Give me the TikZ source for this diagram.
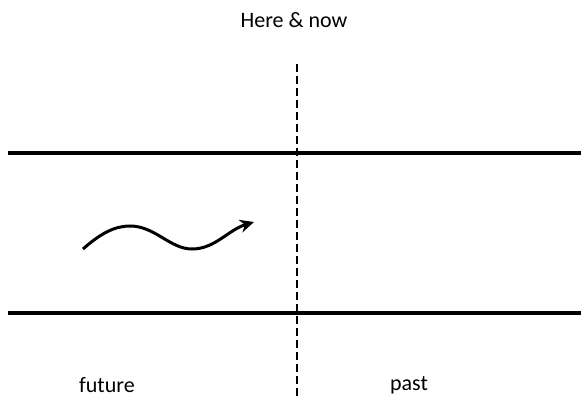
\documentclass[tikz,border=0pt]{standalone}
\usepackage{fontspec}
\setmainfont{Carlito}
\usetikzlibrary{arrows.meta}

\begin{document}
\begin{tikzpicture}[
		x=1pt, y=-1pt,
		lbl/.style={font=\fontsize{22}{26}\selectfont, inner sep=0pt},
		band/.style={line width=3.4pt},
		now/.style={line width=2.5pt, dash pattern=on 8pt off 4pt},
		flow/.style={line width=3pt, -{Stealth[length=14pt, width=13pt]}},
		]
		
		\useasboundingbox (0, 0) rectangle (581, 398);
		
		\node[lbl] (here)   at (294, 20)  {Here \& now};
		\node[lbl] (future) at (107, 385) {future};
		\node[lbl] (past)   at (409, 385) {past};
		
		\coordinate (topL) at (8, 153);
		\coordinate (topR) at (581, 153);
		\coordinate (botL) at (8, 313);
		\coordinate (botR) at (581, 313);
		\coordinate (nowT) at (297, 64);
		\coordinate (nowB) at (297, 398);
		
		\draw[band] (topL) -- (topR);
		\draw[band] (botL) -- (botR);
		\draw[now] (nowT) -- (nowB);
		
		\coordinate (w0) at (83, 249);
		\coordinate (w1) at (130, 226);
		\coordinate (w2) at (192, 249);
		\coordinate (w3) at (254, 222);
		\draw[flow] (w0) .. controls (100, 234) and (114, 226) .. (w1)
			.. controls (155, 226) and (170, 249) .. (w2)
			.. controls (215, 249) and (228, 230) .. (w3);
		
	\end{tikzpicture}
\end{document}
